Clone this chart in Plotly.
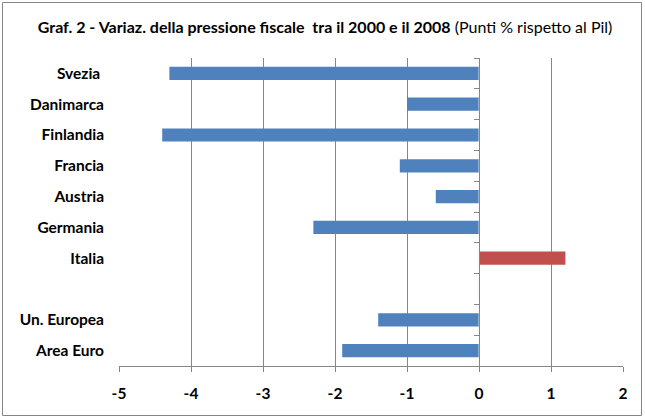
import plotly.graph_objects as go

categories = ["Svezia\u00a0", "Danimarca", "Finlandia", "Francia", "Austria",
              "Germania", "Italia", " ", "Un. Europea", "Area Euro"]
values = [-4.3, -1.0, -4.4, -1.1, -0.6, -2.3, 1.2, None, -1.4, -1.9]
colors = ["#4F81BD"] * 6 + ["#C0504D", "#4F81BD", "#4F81BD", "#4F81BD"]
x_ticks = [-5, -4, -3, -2, -1, 0, 1, 2]

FONT = "Lato"
W, H = 645, 420
L, R, T, B = 119, 22, 58, 54
pw, ph = W - L - R, H - T - B

fig = go.Figure()
fig.add_trace(go.Bar(y=categories, x=values, orientation="h",
                     marker=dict(color=colors, line=dict(width=0)),
                     width=0.43, yaxis="y", hoverinfo="x+y"))
# invisible trace on the zero-line axis, for the boundary ticks
fig.add_trace(go.Bar(y=categories, x=[0] * len(categories), orientation="h",
                     marker=dict(color="rgba(0,0,0,0)"), yaxis="y2",
                     showlegend=False, hoverinfo="skip"))

xmin, xmax = x_ticks[0], x_ticks[-1]
fig.update_layout(
    width=W, height=H,
    margin=dict(l=L, r=R, t=T, b=B),
    paper_bgcolor="white", plot_bgcolor="white",
    showlegend=False, barmode="overlay",
    font=dict(family=FONT, size=15.5, color="black"),
    title=dict(text="<b>Graf. 2 - Variaz. della pressione fiscale  tra il 2000 e il 2008</b> (Punti % rispetto al Pil)",
               x=0.504, xanchor="center", xref="container", y=1 - 27 / H, yanchor="middle",
               font=dict(family=FONT, size=16, color="black")),
    xaxis=dict(range=[xmin, xmax], tickvals=x_ticks, ticktext=[f"<b>{v}</b>" for v in x_ticks],
               showgrid=True, gridcolor="#868686", gridwidth=1, zeroline=False,
               showline=True, linecolor="#868686", linewidth=1,
               ticks="outside", ticklen=5, tickcolor="#868686", tickfont=dict(size=15.5),
               ticklabelstandoff=8, mirror=False, fixedrange=True),
    yaxis=dict(type="category", categoryarray=categories, range=[9.5, -0.5],
               ticks="", showline=False, showgrid=False, zeroline=False,
               ticktext=[f"<b>{c}</b>" for c in categories], tickvals=categories,
               ticklabelstandoff=14, tickfont=dict(size=15.5)),
    yaxis2=dict(type="category", categoryarray=categories, range=[9.5, -0.5],
                overlaying="y", anchor="free", position=(0 - xmin) / (xmax - xmin),
                side="left", tickson="boundaries", ticks="outside", ticklen=5,
                tickcolor="#868686", showticklabels=False, showline=True,
                linecolor="#868686", linewidth=1, showgrid=False, zeroline=False),
)
fig.add_shape(type="rect", xref="paper", yref="paper",
              x0=(2.5 - L) / pw, x1=(641.5 - L) / pw,
              y0=(H - B - 415.5) / ph, y1=(H - B - 2.5) / ph,
              line=dict(color="#868686", width=1), fillcolor="rgba(0,0,0,0)", layer="below")
fig.write_html("out.html", config={"displayModeBar": False},
               post_script="document.body.style.margin='0';document.body.style.overflow='hidden';")
